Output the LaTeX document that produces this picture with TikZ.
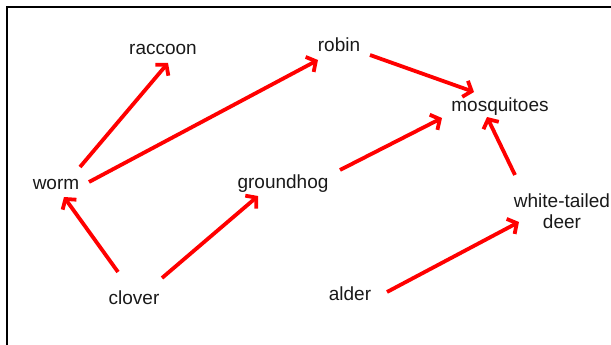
\documentclass[tikz,border=0pt]{standalone}
\usepackage{fontspec}
\setmainfont{Liberation Sans}
\usetikzlibrary{arrows.meta}
\tikzset{
  lbl/.style={anchor=base, inner sep=0pt, font=\fontsize{19}{21}\selectfont, text=black!90, align=center},
  link/.style={draw=red, line width=3.8pt, -{Straight Barb[length=7pt,width=17pt]}},
  frame/.style={draw=black, line width=2pt}
}
\begin{document}
\begin{tikzpicture}[x=1pt, y=-1pt]
\useasboundingbox (0,0) rectangle (611,345);
\clip (0,0) rectangle (611,345);
\draw[frame] (7,360) -- (7,7) -- (620,7);

\node[lbl] (raccoon) at (163,55) {raccoon};
\node[lbl] (robin) at (339,52) {robin};
\node[lbl] (mosq) at (500,112) {mosquitoes};
\node[lbl] (worm) at (56,189) {worm};
\node[lbl] (groundhog) at (283,188) {groundhog};
\node[lbl] (deer) at (562,228) {white-tailed\\deer};
\node[lbl] (clover) at (134,304) {clover};
\node[lbl] (alder) at (350,300) {alder};

\draw[link] ([shift={(24,-22)}]worm.base) -- ([shift={(5,8)}]raccoon.base);
\draw[link] ([shift={(33,-7)}]worm.base) -- ([shift={(-21,8)}]robin.base);
\draw[link] ([shift={(31,3)}]robin.base) -- ([shift={(-26,-20)}]mosq.base);
\draw[link] ([shift={(57,-18)}]groundhog.base) -- ([shift={(-58,6)}]mosq.base);
\draw[link] ([shift={(-47,-53)}]deer.base) -- ([shift={(-13,5)}]mosq.base);
\draw[link] ([shift={(-16,-32)}]clover.base) -- ([shift={(8,8)}]worm.base);
\draw[link] ([shift={(28,-26)}]clover.base) -- ([shift={(-25,8)}]groundhog.base);
\draw[link] ([shift={(37,-8)}]alder.base) -- ([shift={(-43,-6)}]deer.base);
\end{tikzpicture}
\end{document}
